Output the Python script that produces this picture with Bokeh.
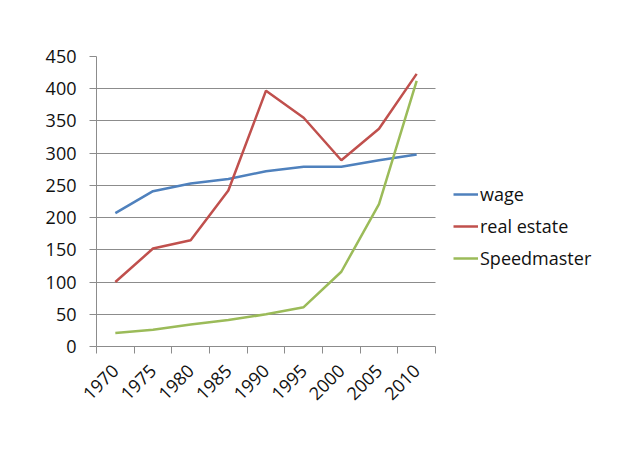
from math import pi
from bokeh.plotting import figure
from bokeh.models import Range1d, FixedTicker, Legend, LegendItem, BoxAnnotation
from bokeh.embed import file_html
from bokeh.resources import INLINE

years = ["1970", "1975", "1980", "1985", "1990", "1995", "2000", "2005", "2010"]
wage = [207, 241, 253, 260, 272, 279, 279, 289, 298]
real_estate = [100, 152, 165, 242, 397, 355, 289, 338, 423]
speedmaster = [21, 26, 34, 41, 50, 61, 116, 221, 412]
y_ticks = [0, 50, 100, 150, 200, 250, 300, 350, 400, 450]

n = len(years)
xs = [i + 0.5 for i in range(n)]

FONT = "Open Sans"
GRID = "#8c8c8c"

# frame spans 96..641 px; the category area (0..n) occupies 96..435 px
x_end = n * (641 - 96) / (435 - 96)

p = figure(width=641, height=449, output_backend="svg", toolbar_location=None,
           x_range=Range1d(0, x_end), y_range=Range1d(0, 450),
           min_border_left=96, min_border_right=0, min_border_top=56, min_border_bottom=103)
p.outline_line_color = None
p.background_fill_color = "white"
p.border_fill_color = "white"

# x axis
p.xaxis.ticker = FixedTicker(ticks=xs, minor_ticks=list(range(n + 1)))
p.xaxis.bounds = (0, n)
p.xaxis.major_label_overrides = {x: y for x, y in zip(xs, years)}
p.xaxis.major_label_orientation = pi / 4
p.xaxis.major_tick_out = 0
p.xaxis.major_tick_in = 0
p.xaxis.minor_tick_out = 7
p.xaxis.minor_tick_in = 0
p.xaxis.minor_tick_line_color = GRID
p.xaxis.axis_line_color = GRID
p.xaxis.major_label_standoff = 14
p.xaxis.major_label_text_font = FONT
p.xaxis.major_label_text_font_size = "18px"
p.xaxis.major_label_text_color = "#111111"
p.xgrid.grid_line_color = None

# y axis
p.yaxis.ticker = FixedTicker(ticks=y_ticks)
p.yaxis.major_tick_out = 7
p.yaxis.major_tick_in = 0
p.yaxis.minor_tick_line_color = None
p.yaxis.major_tick_line_color = GRID
p.yaxis.axis_line_color = GRID
p.yaxis.major_label_standoff = 13
p.yaxis.major_label_text_font = FONT
p.yaxis.major_label_text_font_size = "18px"
p.yaxis.major_label_text_color = "#111111"
p.ygrid.grid_line_color = GRID
p.ygrid.grid_line_width = 1

# blank out the gridlines to the right of the category area (legend zone)
p.add_layout(BoxAnnotation(left=n, fill_color="white", fill_alpha=1, line_color=None, level="underlay"))

r1 = p.line(xs, wage, line_color="#4F81BD", line_width=2.5)
r2 = p.line(xs, real_estate, line_color="#C0504D", line_width=2.5)
r3 = p.line(xs, speedmaster, line_color="#9BBB59", line_width=2.5)

legend = Legend(items=[LegendItem(label="wage", renderers=[r1]),
                       LegendItem(label="real estate", renderers=[r2]),
                       LegendItem(label="Speedmaster", renderers=[r3])],
                location=(357, 76))
legend.label_text_font = FONT
legend.label_text_font_size = "18px"
legend.label_text_color = "#111111"
legend.glyph_width = 25
legend.glyph_height = 20
legend.label_height = 20
legend.spacing = 8
legend.padding = 0
legend.margin = 0
legend.label_standoff = 2
legend.border_line_color = None
legend.background_fill_alpha = 0
p.add_layout(legend, "center")

open("out.html", "w").write(file_html(p, INLINE))
